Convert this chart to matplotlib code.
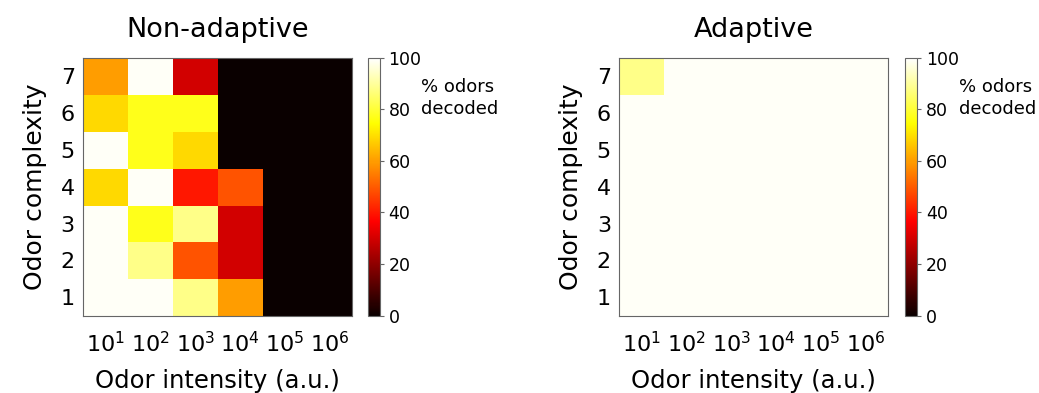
import numpy as np
import matplotlib
matplotlib.use('Agg')
import matplotlib.pyplot as plt

# ── Data ──────────────────────────────────────────────────────────────────────
intensity_labels = [r'$10^{1}$', r'$10^{2}$', r'$10^{3}$', r'$10^{4}$', r'$10^{5}$', r'$10^{6}$']
complexity = [1, 2, 3, 4, 5, 6, 7]

# rows = complexity 1..7 (bottom to top), cols = intensity 10^1..10^6
non_adaptive = [
    [99, 99, 88, 60, 0, 0],
    [99, 88, 49, 30, 0, 0],
    [99, 77, 88, 30, 0, 0],
    [69, 99, 40, 49, 0, 0],
    [99, 77, 69, 0, 0, 0],
    [69, 77, 77, 0, 0, 0],
    [60, 99, 30, 0, 0, 0],
]
adaptive = [
    [99, 99, 99, 99, 99, 99],
    [99, 99, 99, 99, 99, 99],
    [99, 99, 99, 99, 99, 99],
    [99, 99, 99, 99, 99, 99],
    [99, 99, 99, 99, 99, 99],
    [99, 99, 99, 99, 99, 99],
    [88, 99, 99, 99, 99, 99],
]

SPINE_COL = '#666666'

fig = plt.figure(figsize=(10.39, 3.93), dpi=100)

panels = [
    ('Non-adaptive', non_adaptive, [0.080, 0.197, 0.259, 0.656], [0.354, 0.197, 0.012, 0.656]),
    ('Adaptive',     adaptive,     [0.596, 0.197, 0.259, 0.656], [0.871, 0.197, 0.012, 0.656]),
]

for title, data, ax_rect, cb_rect in panels:
    ax = fig.add_axes(ax_rect)
    arr = np.array(data, dtype=float)
    im = ax.imshow(arr, cmap='hot', vmin=0, vmax=100, origin='lower',
                   aspect='auto', interpolation='nearest',
                   extent=[0.5, len(intensity_labels) + 0.5, 0.5, len(complexity) + 0.5])
    ax.set_xticks(np.arange(1, len(intensity_labels) + 1))
    ax.set_xticklabels(intensity_labels, fontsize=16)
    ax.set_yticks(complexity)
    ax.set_yticklabels([str(c) for c in complexity], fontsize=16)
    ax.tick_params(length=0)
    ax.tick_params(axis='y', pad=6)
    ax.tick_params(axis='x', pad=11)
    ax.set_xlabel('Odor intensity (a.u.)', fontsize=17.5, labelpad=9)
    ax.set_ylabel('Odor complexity', fontsize=18, labelpad=10)
    ax.set_title(title, fontsize=19.5, pad=15)
    for spine in ax.spines.values():
        spine.set_edgecolor(SPINE_COL)

    cax = fig.add_axes(cb_rect)
    cb = fig.colorbar(im, cax=cax, ticks=[0, 20, 40, 60, 80, 100])
    cb.ax.tick_params(labelsize=12.5, length=3, color=SPINE_COL, pad=3)
    cb.outline.set_edgecolor(SPINE_COL)
    cax.text(4.3, 0.845, '% odors\ndecoded', transform=cax.transAxes,
             fontsize=13, ha='left', va='center', linespacing=1.3)

plt.savefig('out.png', dpi=100, facecolor='white')
